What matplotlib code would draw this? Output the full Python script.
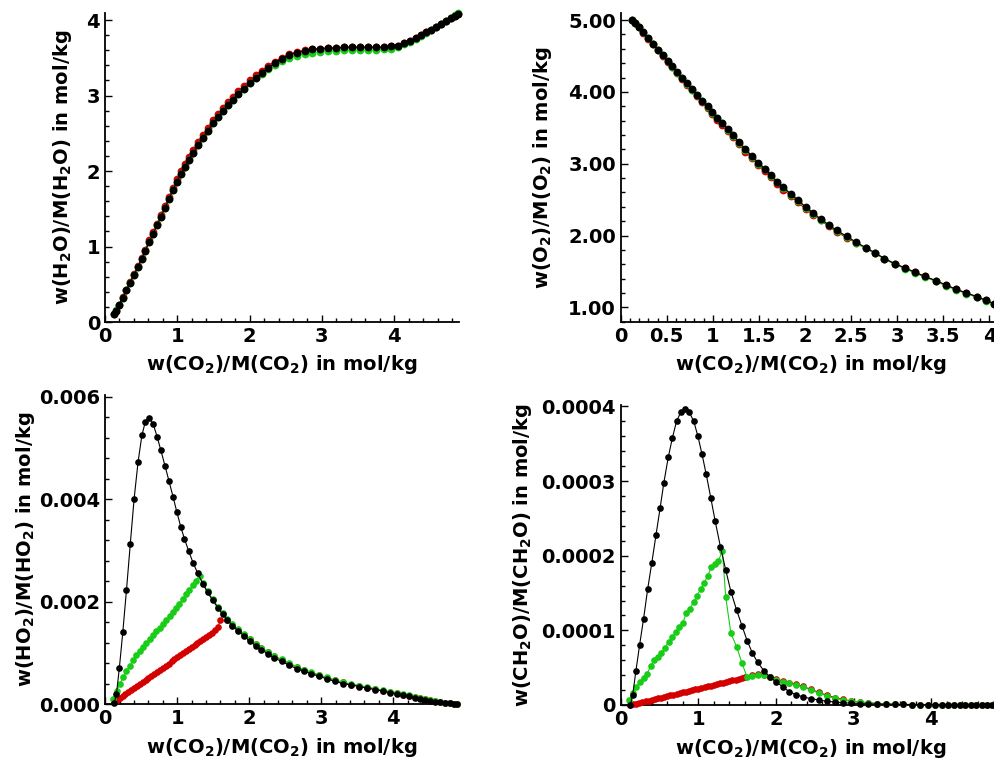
import matplotlib
matplotlib.use("Agg")
import matplotlib.pyplot as plt
from matplotlib.ticker import MultipleLocator, FuncFormatter

# ---------------------------------------------------------------- data
# CO2 loading sampled by the reference (black) run
x_black = [0.125, 0.155, 0.195, 0.243, 0.294, 0.347, 0.400, 0.455, 0.508, 0.556,
           0.613, 0.666, 0.719, 0.772, 0.829, 0.885, 0.942, 0.995, 1.048, 1.100,
           1.160, 1.218, 1.285, 1.353, 1.420, 1.494, 1.563, 1.630, 1.695, 1.765,
           1.845, 1.925, 2.005, 2.090, 2.170, 2.255, 2.345, 2.450, 2.550, 2.660,
           2.760, 2.860, 2.970, 3.080, 3.190, 3.300, 3.420, 3.530, 3.640, 3.750,
           3.860, 3.960, 4.050, 4.140, 4.220, 4.300, 4.370, 4.440, 4.510, 4.580,
           4.650, 4.720, 4.790, 4.840, 4.880]

# early, denser samples of the green and red runs
x_green_rise = [0.110, 0.156, 0.202, 0.248, 0.294, 0.340, 0.386, 0.432, 0.478, 0.524,
                0.570, 0.616, 0.662, 0.708, 0.754, 0.800, 0.846, 0.892, 0.938, 0.984,
                1.030, 1.076, 1.122, 1.168, 1.214, 1.260, 1.310]
x_red_rise = [0.12, 0.16, 0.20, 0.24, 0.28, 0.32, 0.36, 0.40, 0.44, 0.48,
              0.52, 0.56, 0.60, 0.64, 0.68, 0.72, 0.76, 0.80, 0.84, 0.88,
              0.92, 0.96, 1.00, 1.04, 1.08, 1.12, 1.16, 1.20, 1.24, 1.28,
              1.32, 1.36, 1.40, 1.44, 1.48, 1.52, 1.56, 1.60]

# H2O
h2o_black = [0.10, 0.15, 0.23, 0.32, 0.42, 0.52, 0.62, 0.73, 0.84, 0.94,
             1.06, 1.17, 1.28, 1.39, 1.51, 1.63, 1.75, 1.86, 1.96, 2.05,
             2.15, 2.24, 2.34, 2.44, 2.53, 2.63, 2.71, 2.79, 2.87, 2.94,
             3.02, 3.09, 3.16, 3.23, 3.30, 3.36, 3.43, 3.49, 3.54, 3.57,
             3.59, 3.61, 3.62, 3.63, 3.63, 3.64, 3.64, 3.64, 3.64, 3.64,
             3.64, 3.65, 3.66, 3.69, 3.72, 3.76, 3.80, 3.84, 3.87, 3.91,
             3.95, 3.99, 4.03, 4.06, 4.08]
h2o_red = [0.10, 0.15, 0.23, 0.33, 0.43, 0.53, 0.63, 0.74, 0.85, 0.96,
           1.08, 1.19, 1.30, 1.42, 1.54, 1.66, 1.78, 1.90, 2.00, 2.09,
           2.19, 2.28, 2.38, 2.48, 2.57, 2.67, 2.75, 2.83, 2.91, 2.98,
           3.06, 3.13, 3.20, 3.27, 3.33, 3.39, 3.45, 3.50, 3.55, 3.58,
           3.60, 3.61, 3.62, 3.63, 3.63, 3.64, 3.64, 3.64, 3.64, 3.64,
           3.64, 3.65, 3.66, 3.69, 3.72, 3.76, 3.80, 3.84, 3.87, 3.91,
           3.95, 3.99, 4.03, 4.06, 4.08]
h2o_green = [0.11, 0.16, 0.23, 0.32, 0.42, 0.52, 0.62, 0.73, 0.84, 0.94,
             1.06, 1.17, 1.28, 1.39, 1.51, 1.63, 1.75, 1.86, 1.96, 2.05,
             2.15, 2.24, 2.34, 2.44, 2.53, 2.63, 2.71, 2.79, 2.87, 2.94,
             3.02, 3.09, 3.16, 3.23, 3.29, 3.35, 3.41, 3.46, 3.50, 3.53,
             3.55, 3.57, 3.58, 3.59, 3.59, 3.60, 3.60, 3.60, 3.60, 3.60,
             3.61, 3.62, 3.64, 3.68, 3.71, 3.75, 3.79, 3.83, 3.87, 3.91,
             3.95, 3.99, 4.03, 4.07, 4.09]

# O2
o2_black = [5.00, 4.96, 4.90, 4.83, 4.75, 4.67, 4.59, 4.51, 4.43, 4.36,
            4.28, 4.20, 4.12, 4.04, 3.96, 3.88, 3.80, 3.72, 3.64, 3.57,
            3.48, 3.40, 3.30, 3.20, 3.11, 3.01, 2.93, 2.84, 2.75, 2.67,
            2.58, 2.49, 2.40, 2.31, 2.23, 2.15, 2.07, 1.99, 1.91, 1.83,
            1.76, 1.68, 1.61, 1.55, 1.49, 1.43, 1.37, 1.31, 1.25, 1.20,
            1.15, 1.10, 1.05, 1.01, 0.98, 0.95, 0.93, 0.91, 0.89, 0.87,
            0.85, 0.84, 0.83, 0.82, 0.81]
o2_red = [5.00, 4.96, 4.90, 4.82, 4.74, 4.66, 4.58, 4.50, 4.42, 4.34,
          4.26, 4.18, 4.10, 4.02, 3.94, 3.86, 3.77, 3.69, 3.61, 3.54,
          3.45, 3.37, 3.27, 3.17, 3.08, 2.98, 2.90, 2.81, 2.72, 2.64,
          2.55, 2.46, 2.37, 2.29, 2.21, 2.13, 2.05, 1.97, 1.90, 1.82,
          1.75, 1.68, 1.61, 1.55, 1.49, 1.43, 1.37, 1.31, 1.25, 1.20,
          1.15, 1.10, 1.05, 1.01, 0.98, 0.95, 0.93, 0.91, 0.89, 0.87,
          0.85, 0.84, 0.83, 0.82, 0.81]
o2_green = [5.00, 4.96, 4.90, 4.83, 4.75, 4.67, 4.59, 4.51, 4.43, 4.35,
            4.27, 4.19, 4.11, 4.03, 3.95, 3.87, 3.79, 3.71, 3.63, 3.56,
            3.47, 3.39, 3.29, 3.19, 3.10, 3.00, 2.92, 2.83, 2.74, 2.66,
            2.57, 2.48, 2.39, 2.30, 2.22, 2.14, 2.06, 1.98, 1.90, 1.82,
            1.75, 1.67, 1.60, 1.54, 1.48, 1.42, 1.36, 1.30, 1.24, 1.19,
            1.14, 1.09, 1.04, 1.00, 0.97, 0.94, 0.92, 0.90, 0.88, 0.86,
            0.84, 0.83, 0.82, 0.81, 0.80]

# HO2
ho2_black = [0.00002, 0.00020, 0.00070, 0.00140, 0.00222, 0.00312, 0.00400, 0.00472, 0.00524, 0.00551,
             0.00558, 0.00546, 0.00522, 0.00495, 0.00465, 0.00435, 0.00404, 0.00374, 0.00346, 0.00322,
             0.00298, 0.00276, 0.00255, 0.00235, 0.00218, 0.00202, 0.00188, 0.00175, 0.00164, 0.00153,
             0.00143, 0.00133, 0.00123, 0.00114, 0.00106, 0.00098, 0.00090, 0.00083, 0.00076, 0.00069,
             0.00064, 0.00059, 0.00054, 0.00049, 0.00044, 0.00040, 0.00037, 0.00034, 0.00031, 0.00028,
             0.00025, 0.00022, 0.00020, 0.00017, 0.00015, 0.00012, 0.00010, 0.00008, 0.00006, 0.000045,
             0.00003, 0.00002, 0.00001, 0.000005, 0.000002]
ho2_green = [0.00010, 0.00025, 0.00039, 0.00052, 0.00064, 0.00075, 0.00085, 0.00095, 0.00103, 0.00111,
             0.00119, 0.00127, 0.00135, 0.00142, 0.00149, 0.00156, 0.00163, 0.00171, 0.00179, 0.00187,
             0.00196, 0.00205, 0.00214, 0.00223, 0.00232, 0.00241, 0.00249,
             0.00237, 0.00220, 0.00204, 0.00190, 0.00177, 0.00166, 0.00156, 0.00146, 0.00136, 0.00127,
             0.00118, 0.00110, 0.00102, 0.00094, 0.00087, 0.00080, 0.00073, 0.00067, 0.00062, 0.00057,
             0.00052, 0.00047, 0.00043, 0.00039, 0.00036, 0.00033, 0.00030, 0.00027, 0.00024, 0.00022,
             0.00019, 0.00017, 0.00014, 0.00012, 0.00010, 0.00008, 0.00006, 0.00004, 0.000025, 0.000015,
             0.000008, 0.000005]
ho2_red = [0.00003, 0.00007, 0.00011, 0.00015, 0.00019, 0.00023, 0.00027, 0.00031, 0.00035, 0.00039,
           0.00043, 0.00047, 0.00051, 0.00055, 0.00059, 0.00063, 0.00067, 0.00071, 0.00075, 0.00079,
           0.00083, 0.00087, 0.00091, 0.00095, 0.00099, 0.00103, 0.00107, 0.00111, 0.00115, 0.00119,
           0.00123, 0.00127, 0.00131, 0.00135, 0.00139, 0.00144, 0.00150, 0.00163,
           0.00163, 0.00155, 0.00145, 0.00135, 0.00126, 0.00117, 0.00109, 0.00101, 0.00093, 0.00086,
           0.00079, 0.00072, 0.00066, 0.00061, 0.00056, 0.00051, 0.00046, 0.00042, 0.00038, 0.00035,
           0.00032, 0.00029, 0.00026, 0.00023, 0.00021, 0.00018, 0.00016, 0.00013, 0.00011, 0.00009,
           0.00007, 0.00005, 0.000035, 0.00002, 0.00001, 0.000006, 0.000003]

# CH2O
ch2o_black = [0.00e-4, 0.14e-4, 0.45e-4, 0.80e-4, 1.15e-4, 1.55e-4, 1.90e-4, 2.28e-4, 2.64e-4, 2.98e-4,
              3.32e-4, 3.58e-4, 3.80e-4, 3.92e-4, 3.96e-4, 3.92e-4, 3.80e-4, 3.60e-4, 3.36e-4, 3.10e-4,
              2.78e-4, 2.46e-4, 2.12e-4, 1.81e-4, 1.52e-4, 1.27e-4, 1.06e-4, 0.86e-4, 0.70e-4, 0.57e-4,
              0.46e-4, 0.37e-4, 0.31e-4, 0.24e-4, 0.18e-4, 0.14e-4, 0.11e-4, 0.085e-4, 0.068e-4, 0.050e-4,
              0.040e-4, 0.030e-4, 0.025e-4, 0.020e-4, 0.015e-4, 0.012e-4, 0.010e-4, 0.008e-4, 0.007e-4, 0.006e-4,
              0.005e-4, 0.004e-4, 0.004e-4, 0.003e-4, 0.003e-4, 0.002e-4, 0.002e-4, 0.002e-4, 0.001e-4, 0.001e-4,
              0.001e-4, 0.001e-4, 0.001e-4, 0.000e-4, 0.000e-4]
ch2o_green = [0.07e-4, 0.16e-4, 0.24e-4, 0.31e-4, 0.36e-4, 0.42e-4, 0.52e-4, 0.60e-4, 0.64e-4, 0.70e-4,
              0.77e-4, 0.84e-4, 0.91e-4, 0.98e-4, 1.04e-4, 1.10e-4, 1.23e-4, 1.29e-4, 1.38e-4, 1.46e-4,
              1.56e-4, 1.64e-4, 1.73e-4, 1.85e-4, 1.89e-4, 1.93e-4, 2.07e-4,
              1.45e-4, 0.96e-4, 0.78e-4, 0.56e-4, 0.37e-4, 0.39e-4, 0.40e-4, 0.40e-4, 0.38e-4, 0.34e-4,
              0.31e-4, 0.29e-4, 0.27e-4, 0.24e-4, 0.20e-4, 0.16e-4, 0.12e-4, 0.09e-4, 0.07e-4, 0.05e-4,
              0.04e-4, 0.03e-4, 0.02e-4, 0.015e-4, 0.010e-4, 0.008e-4, 0.006e-4, 0.005e-4, 0.004e-4, 0.003e-4,
              0.003e-4, 0.002e-4, 0.002e-4, 0.002e-4, 0.001e-4, 0.001e-4, 0.001e-4, 0.001e-4, 0.001e-4, 0.000e-4,
              0.000e-4, 0.000e-4]
ch2o_red = [0.00e-4, 0.01e-4, 0.02e-4, 0.03e-4, 0.04e-4, 0.05e-4, 0.06e-4, 0.07e-4, 0.08e-4, 0.09e-4,
            0.10e-4, 0.11e-4, 0.12e-4, 0.13e-4, 0.14e-4, 0.15e-4, 0.16e-4, 0.17e-4, 0.18e-4, 0.19e-4,
            0.20e-4, 0.21e-4, 0.22e-4, 0.23e-4, 0.24e-4, 0.25e-4, 0.26e-4, 0.27e-4, 0.28e-4, 0.29e-4,
            0.30e-4, 0.31e-4, 0.32e-4, 0.33e-4, 0.34e-4, 0.35e-4, 0.36e-4, 0.37e-4,
            0.40e-4, 0.41e-4, 0.40e-4, 0.38e-4, 0.35e-4, 0.32e-4, 0.30e-4, 0.28e-4, 0.25e-4, 0.21e-4,
            0.17e-4, 0.13e-4, 0.10e-4, 0.075e-4, 0.055e-4, 0.04e-4, 0.03e-4, 0.02e-4, 0.015e-4, 0.01e-4,
            0.008e-4, 0.006e-4, 0.005e-4, 0.004e-4, 0.003e-4, 0.003e-4, 0.002e-4, 0.002e-4, 0.002e-4, 0.001e-4,
            0.001e-4, 0.001e-4, 0.001e-4, 0.001e-4, 0.000e-4, 0.000e-4, 0.000e-4]

# x grids of the green and red runs: dense rise, then the common samples
x_green = x_green_rise + x_black[23:]
x_red = x_red_rise + x_black[28:]

xlabel_text = r"w(CO$_2$)/M(CO$_2$) in mol/kg"

# ---------------------------------------------------------------- style
plt.rcParams.update({
    "font.family": "DejaVu Sans",
    "font.weight": "bold",
    "font.size": 14,
    "mathtext.fontset": "custom",
    "mathtext.rm": "DejaVu Sans:bold",
    "mathtext.it": "DejaVu Sans:bold",
    "mathtext.bf": "DejaVu Sans:bold",
    "mathtext.default": "rm",
})

RED = "#d40000"
GREEN = "#18cc18"
BLACK = "#000000"

W, H = 994, 760
fig = plt.figure(figsize=(W / 100, H / 100), dpi=100)


def px_axes(left, top, right, bottom):
    """Add axes from pixel edges measured from the top-left corner."""
    return fig.add_axes([left / W, 1 - bottom / H, (right - left) / W, (bottom - top) / H])


def style(ax, xlim, ylim, xmaj, xmin, ymaj, ymin, xfmt, yfmt, ylabel, xpad, ypad):
    ax.set_xlim(*xlim)
    ax.set_ylim(*ylim)
    for s in ("top", "right"):
        ax.spines[s].set_visible(False)
    for s in ("left", "bottom"):
        ax.spines[s].set_linewidth(1.3)
    ax.xaxis.set_major_locator(MultipleLocator(xmaj))
    ax.xaxis.set_minor_locator(MultipleLocator(xmin))
    ax.yaxis.set_major_locator(MultipleLocator(ymaj))
    ax.yaxis.set_minor_locator(MultipleLocator(ymin))
    ax.xaxis.set_major_formatter(FuncFormatter(xfmt))
    ax.yaxis.set_major_formatter(FuncFormatter(yfmt))
    ax.tick_params(which="both", direction="in", top=False, right=False, width=1.0)
    ax.tick_params(which="major", length=5.3, pad=3.5, labelsize=14)
    ax.tick_params(which="minor", length=3.0)
    ax.set_xlabel(xlabel_text, fontsize=14, fontweight="bold", labelpad=xpad)
    ax.set_ylabel(ylabel, fontsize=14, fontweight="bold", labelpad=ypad)
    ax.patch.set_alpha(0)


def draw(ax, series, ms):
    for xs, ys, c in series:
        ax.plot(xs, ys, "-o", color=c, lw=0.8, ms=ms, mec=c, mew=0,
                clip_on=False, zorder=3)


fmt_g = lambda v, p: f"{v:g}"
fmt_2 = lambda v, p: f"{v:.2f}"
fmt_3 = lambda v, p: f"{v:.3f}"
fmt_4 = lambda v, p: "0" if abs(v) < 1e-12 else f"{v:.4f}"

# top left: H2O
ax1 = px_axes(105, 12.5, 459.3, 322)
draw(ax1, [(x_black, h2o_red, RED), (x_black, h2o_green, GREEN), (x_black, h2o_black, BLACK)], 5.6)
style(ax1, (0, 4.9), (0, 4.1), 1, 0.2, 1, 0.2, fmt_g, fmt_g,
      r"w(H$_2$O)/M(H$_2$O) in mol/kg", 5, 9)

# top right: O2 (the axis ends right at the edge of the figure)
ax2 = px_axes(620.7, 12.9, 1000, 321.7)
draw(ax2, [(x_black, o2_red, RED), (x_black, o2_green, GREEN), (x_black, o2_black, BLACK)], 5.6)
style(ax2, (0, 4.114), (0.8, 5.1), 0.5, 0.1, 1, 0.2, fmt_g, fmt_2,
      r"w(O$_2$)/M(O$_2$) in mol/kg", 5, 10)

# bottom left: HO2
ax3 = px_axes(105.3, 395, 458, 704)
draw(ax3, [(x_red, ho2_red, RED), (x_green, ho2_green, GREEN), (x_black, ho2_black, BLACK)], 4.8)
style(ax3, (0, 4.9), (0, 0.00603), 1, 0.2, 0.002, 0.0004, fmt_g, fmt_3,
      r"w(HO$_2$)/M(HO$_2$) in mol/kg", 6, 1.5)

# bottom right: CH2O
ax4 = px_axes(620.7, 405, 1001, 705)
draw(ax4, [(x_red, ch2o_red, RED), (x_green, ch2o_green, GREEN), (x_black, ch2o_black, BLACK)], 4.8)
style(ax4, (0, 4.9), (0, 0.000402), 1, 0.2, 0.0001, 0.00002, fmt_g, fmt_4,
      r"w(CH$_2$O)/M(CH$_2$O) in mol/kg", 6, 5.5)

fig.savefig("out.png", dpi=100)
